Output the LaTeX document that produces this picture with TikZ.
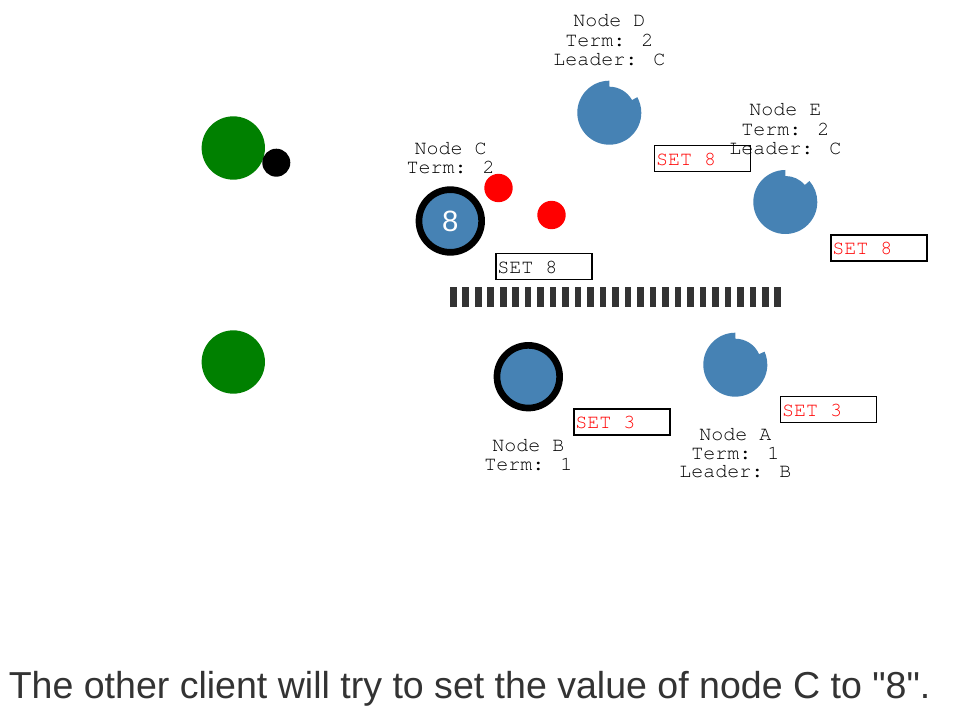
\documentclass[tikz,border=0pt]{standalone}
\usepackage{fontspec}
\setmainfont{Liberation Sans}
\newfontfamily\monofnt{texgyrecursor}[Extension=.otf, UprightFont=*-regular]
\newfontfamily\capfnt{Liberation Sans}
\usetikzlibrary{calc}
\definecolor{steel}{HTML}{4682B4}
\definecolor{grn}{HTML}{008000}
\definecolor{darkbar}{HTML}{333333}
\definecolor{captxt}{HTML}{333333}
\newcommand{\lblfont}{\monofnt\fontsize{15pt}{18pt}\selectfont}
\newcommand{\settext}[1]{\makebox[69.8pt][l]{\lblfont #1}}
\tikzset{
  lbl/.style={anchor=base, inner sep=0pt, font=\lblfont, text=black},
  setbox/.style={draw=black, line width=0.9pt, rectangle, anchor=north west,
    minimum width=72pt, minimum height=19.5pt, inner xsep=1.1pt, inner ysep=0pt,
    text height=10.5pt, text depth=0pt, font=\lblfont},
  ringnode/.style={circle, fill=steel, draw=black, line width=5pt, minimum size=47pt, inner sep=0pt},
  greennode/.style={circle, fill=grn, minimum size=47.5pt, inner sep=0pt},
  reddot/.style={circle, fill=red, minimum size=21.3pt, inner sep=0pt},
  blackdot/.style={circle, fill=black, minimum size=21pt, inner sep=0pt},
}
% notched node: #1 centre name, #2 notch end angle (visual)
\newcommand{\notched}[2]{%
  \fill[steel] ($(#1)+(-90:32)$) arc[start angle=-90, end angle={-360-#2}, radius=32]
    -- ($(#1)+(-#2:26)$) arc[start angle={-#2}, end angle=-90, radius=26] -- cycle;}
\begin{document}
\begin{tikzpicture}[x=0.75pt, y=-0.75pt]
\useasboundingbox (0,0) rectangle (960,713);
\fill[white] (0,0) rectangle (960,713);

% clients
\node[greennode] (g1) at (233.3,148) {};
\node[greennode] (g2) at (233.3,362) {};
\node[blackdot] (blk) at (276.3,162.7) {};

% messages
\node[reddot] (r1) at (498.5,188) {};
\node[reddot] (r2) at (551.5,215) {};

% nodes with rings
\node[ringnode, text=white, font=\capfnt\fontsize{22pt}{26pt}\selectfont] (C) at (450.3,221) {8};
\node[ringnode] (B) at (528.3,376.7) {};

% notched nodes
\coordinate (D) at (609.3,112.7);
\coordinate (E) at (785.3,202);
\coordinate (A) at (735.3,364.7);
\notched{D}{29}
\notched{E}{41}
\notched{A}{24}

% partition bar
\foreach \k in {0,...,26} {
  \fill[darkbar] ({450+12.48*\k},287.3) rectangle ({456.6+12.48*\k},306.7);
}

% set boxes
\node[setbox, text=red] (bD) at (654,145) {\settext{SET 8}};
\node[setbox, text=red] (bE) at (830.3,234.3) {\settext{SET 8}};
\node[setbox, text=black] (bC) at (495.3,252.7) {\settext{SET 8}};
\node[setbox, text=red] (bB) at (573.3,408.3) {\settext{SET 3}};
\node[setbox, text=red] (bA) at (780,396) {\settext{SET 3}};

% labels
\node[lbl] (lD1) at (609.3,26.7) {Node D};
\node[lbl] (lD2) at (609.3,46.2) {Term: 2};
\node[lbl] (lD3) at (609.3,65.7) {Leader: C};
\node[lbl] (lE1) at (785.3,116) {Node E};
\node[lbl] (lE2) at (785.3,135.5) {Term: 2};
\node[lbl] (lE3) at (785.3,155) {Leader: C};
\node[lbl] (lC1) at (450.5,155) {Node C};
\node[lbl] (lC2) at (450.5,173.7) {Term: 2};
\node[lbl] (lB1) at (528.3,451.7) {Node B};
\node[lbl] (lB2) at (528.3,470.7) {Term: 1};
\node[lbl] (lA1) at (735.3,440) {Node A};
\node[lbl] (lA2) at (735.3,459) {Term: 1};
\node[lbl] (lA3) at (735.3,477.5) {Leader: B};

% caption
\node[anchor=base west, inner sep=0pt, text=captxt, font=\capfnt\fontsize{28.15pt}{34pt}\selectfont] (cap) at (8.5,698) {The other client will try to set the value of node C to "8".};
\end{tikzpicture}
\end{document}
